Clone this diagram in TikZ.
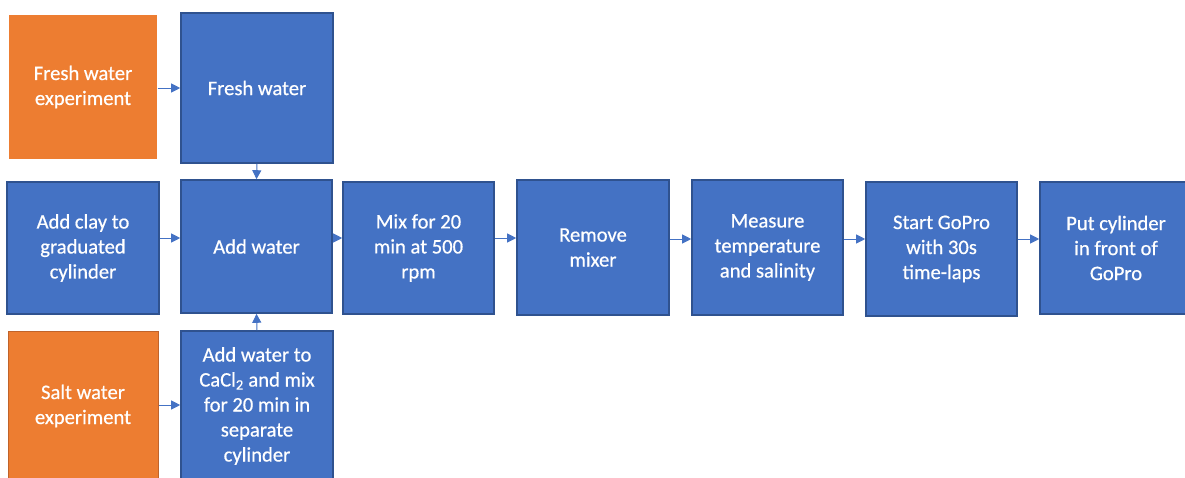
\documentclass[tikz,border=0pt]{standalone}
\usepackage{fontspec}
\setmainfont{Carlito}[FakeBold=0.6]
\usetikzlibrary{arrows.meta}
\definecolor{bfill}{HTML}{4472C4}
\definecolor{bdraw}{HTML}{2F528F}
\definecolor{ofill}{HTML}{ED7D31}
\definecolor{odraw}{HTML}{C0632A}
\tikzset{
  box/.style={rectangle, fill=bfill, draw=bdraw, line width=1.6pt, text=white,
    align=center, inner sep=2pt, font=\fontsize{20.6}{25}\selectfont},
  obox/.style={box, fill=ofill, draw=odraw, line width=1pt},
  conn/.style={draw=bfill, line width=1pt, -{Triangle[length=9pt,width=9pt]}}
}
\begin{document}
\begin{tikzpicture}[x=1pt,y=-1pt]
\useasboundingbox (0,0) rectangle (1185,477);
\fill[white] (0,0) rectangle (1185,477);
\node[obox, draw=none, minimum width=148pt, minimum height=144pt] (fwe) at (83,87) {Fresh water\\experiment};
\node[box, minimum width=152pt, minimum height=150pt] (fw) at (257,88) {Fresh water};
\node[box, minimum width=152pt, minimum height=132pt] (clay) at (83,248) {Add clay to\\graduated\\cylinder};
\node[box, minimum width=151pt, minimum height=133pt] (aw) at (256.5,246.5) {Add water};
\node[obox, minimum width=150pt, minimum height=150pt] (swe) at (83,406) {Salt water\\experiment};
\node[box, minimum width=152pt, minimum height=150pt] (cacl) at (257,406) {Add water to\\CaCl\textsubscript{2} and mix\\for 20 min in\\separate\\cylinder};
\node[box, minimum width=151pt, minimum height=132pt] (mix) at (418.5,248) {Mix for 20\\min at 500\\rpm};
\node[box, minimum width=152pt, minimum height=135pt] (rem) at (593,247.5) {Remove\\mixer};
\node[box, minimum width=151pt, minimum height=135pt] (meas) at (767.5,247.5) {Measure\\temperature\\and salinity};
\node[box, minimum width=151pt, minimum height=134pt] (gopro) at (941.5,249) {Start GoPro\\with 30s\\time-laps};
\node[box, minimum width=152pt, minimum height=132pt] (put) at (1116,248) {Put cylinder\\in front of\\GoPro};
\draw[conn] (fwe.east |- 0,88) -- (fw.west |- 0,88);
\draw[conn] (fw.south) -- (aw.north);
\draw[conn] (clay.east |- 0,238) -- (aw.west |- 0,238);
\draw[conn] (cacl.north) -- (aw.south);
\draw[conn] (swe.east |- 0,405) -- (cacl.west |- 0,405);
\draw[conn] (aw.east |- 0,238) -- (mix.west |- 0,238);
\draw[conn] (mix.east |- 0,238) -- (rem.west |- 0,238);
\draw[conn] (rem.east |- 0,239) -- (meas.west |- 0,239);
\draw[conn] (meas.east |- 0,239) -- (gopro.west |- 0,239);
\draw[conn] (gopro.east |- 0,239) -- (put.west |- 0,239);
\end{tikzpicture}
\end{document}
